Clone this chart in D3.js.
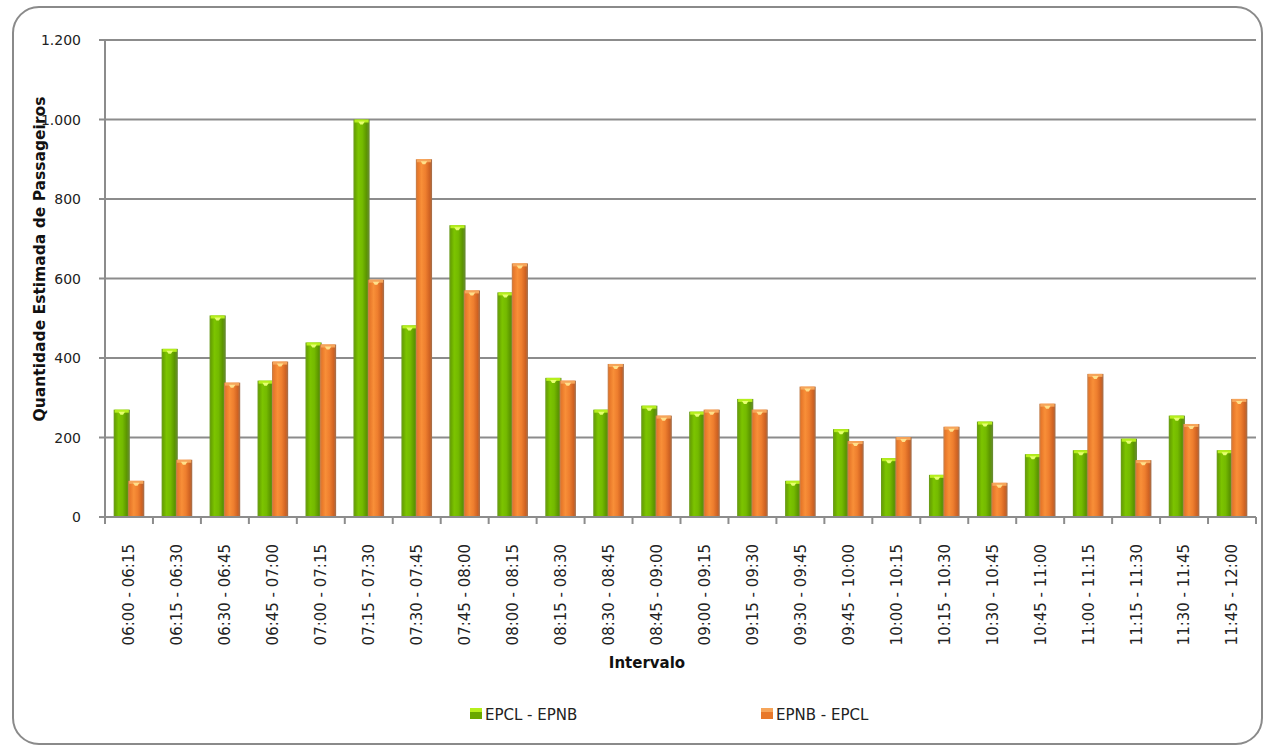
<!DOCTYPE html>
<html>
<head>
<meta charset="utf-8">
<script src="https://cdn.jsdelivr.net/npm/d3@7"></script>
<style>
  html, body { margin: 0; padding: 0; background: #fff; }
  svg { display: block; font-family: "DejaVu Sans", sans-serif; }
</style>
</head>
<body>
<svg id="chart" width="1266" height="747"></svg>
<script>
const categories = ["06:00 - 06:15","06:15 - 06:30","06:30 - 06:45","06:45 - 07:00","07:00 - 07:15","07:15 - 07:30","07:30 - 07:45","07:45 - 08:00","08:00 - 08:15","08:15 - 08:30","08:30 - 08:45","08:45 - 09:00","09:00 - 09:15","09:15 - 09:30","09:30 - 09:45","09:45 - 10:00","10:00 - 10:15","10:15 - 10:30","10:30 - 10:45","10:45 - 11:00","11:00 - 11:15","11:15 - 11:30","11:30 - 11:45","11:45 - 12:00"];
const seriesNames = ["EPCL - EPNB", "EPNB - EPCL"];
const epclEpnb = [270, 423, 507, 343, 439, 1000, 482, 734, 565, 350, 270, 280, 265, 297, 91, 221, 148, 106, 240, 158, 168, 197, 255, 168];
const epnbEpcl = [91, 144, 338, 391, 434, 597, 900, 570, 638, 343, 385, 255, 270, 270, 328, 191, 201, 227, 86, 285, 360, 143, 234, 297];
const yTicks = [0, 200, 400, 600, 800, 1000, 1200];
const yTickLabels = ["0", "200", "400", "600", "800", "1.000", "1.200"];

const svg = d3.select("#chart");
const plot = {left: 105, right: 1256, top: 40, bottom: 517};

// outer rounded border
svg.append("rect").attr("x", 13).attr("y", 7).attr("width", 1249).attr("height", 737)
  .attr("rx", 26).attr("ry", 26).attr("fill", "#fff").attr("stroke", "#8a8a8a").attr("stroke-width", 2);

// gradients
const defs = svg.append("defs");
function grad(id, stops) {
  const g = defs.append("linearGradient").attr("id", id).attr("x1", "0%").attr("x2", "100%").attr("y1", "0%").attr("y2", "0%");
  stops.forEach(s => g.append("stop").attr("offset", s[0]).attr("stop-color", s[1]));
}
grad("gGreen", [["0%", "#6a9a1e"], ["12%", "#6aa800"], ["30%", "#7cc400"], ["55%", "#74ba00"], ["80%", "#5c9600"], ["100%", "#6a8a3a"]]);
grad("gOrange", [["0%", "#c08050"], ["12%", "#e8782a"], ["35%", "#f88f38"], ["60%", "#ee7e2e"], ["85%", "#cf6222"], ["100%", "#a07050"]]);

const x = d3.scaleBand().domain(categories).range([plot.left, plot.right]).paddingInner(0).paddingOuter(0);
const y = d3.scaleLinear().domain([0, 1200]).range([plot.bottom, plot.top]);
const inner = d3.scaleBand().domain(seriesNames).range([0, x.bandwidth()]).paddingInner(-0.12).paddingOuter(0.6);

// gridlines + y tick marks
svg.append("g").selectAll("line").data(yTicks).join("line")
  .attr("x1", plot.left - 6).attr("x2", plot.right)
  .attr("y1", d => y(d)).attr("y2", d => y(d))
  .attr("stroke", "#8c8c8c").attr("stroke-width", 2);

// y axis line
svg.append("line").attr("x1", plot.left).attr("x2", plot.left).attr("y1", plot.top).attr("y2", plot.bottom + 7)
  .attr("stroke", "#8c8c8c").attr("stroke-width", 2);

// y labels
svg.append("g").selectAll("text").data(yTicks).join("text")
  .attr("x", 81).attr("y", d => y(d)).attr("dy", "0.36em")
  .attr("text-anchor", "end").attr("font-size", 14).attr("fill", "#222")
  .text((d, i) => yTickLabels[i]);

// bars
const series = [
  {name: seriesNames[0], values: epclEpnb, fill: "url(#gGreen)", cap: "#b6ef1c", capLight: "#e6ff70"},
  {name: seriesNames[1], values: epnbEpcl, fill: "url(#gOrange)", cap: "#f6a55a", capLight: "#ffe08a"}
];
const bw = inner.bandwidth();
series.forEach(s => {
  const g = svg.append("g");
  s.values.forEach((v, i) => {
    const bx = x(categories[i]) + inner(s.name);
    const top = y(v);
    g.append("rect").attr("x", bx).attr("y", top).attr("width", bw).attr("height", y(0) - top).attr("fill", s.fill);
    g.append("rect").attr("x", bx + 1).attr("y", top).attr("width", bw - 2).attr("height", 3).attr("fill", s.cap);
    g.append("path").attr("d", `M${bx + bw*0.3},${top + 2} L${bx + bw*0.7},${top + 2} L${bx + bw*0.58},${top + 5} L${bx + bw*0.42},${top + 5} Z`).attr("fill", s.capLight);
  });
});

// x axis baseline and category ticks
svg.append("line").attr("x1", plot.left - 6).attr("x2", plot.right).attr("y1", plot.bottom).attr("y2", plot.bottom)
  .attr("stroke", "#8c8c8c").attr("stroke-width", 2);
const bounds = categories.map(c => x(c)).concat([plot.right]);
svg.append("g").selectAll("line").data(bounds).join("line")
  .attr("x1", d => d).attr("x2", d => d).attr("y1", plot.bottom).attr("y2", plot.bottom + 7)
  .attr("stroke", "#8c8c8c").attr("stroke-width", 2);

// x labels (rotated)
svg.append("g").selectAll("text").data(categories).join("text")
  .attr("transform", d => `translate(${x(d) + x.bandwidth()/2},${plot.bottom + 27}) rotate(-90)`)
  .attr("text-anchor", "end").attr("dy", "0.36em").attr("font-size", 15).attr("fill", "#222")
  .text(d => d);

// axis titles
svg.append("text").attr("x", 647).attr("y", 668).attr("text-anchor", "middle")
  .attr("font-size", 15).attr("font-weight", "bold").attr("fill", "#111").text("Intervalo");
svg.append("text").attr("transform", "translate(45,259) rotate(-90)").attr("text-anchor", "middle")
  .attr("font-size", 15.5).attr("font-weight", "bold").attr("fill", "#111").text("Quantidade Estimada de Passageiros");

// legend
const legend = [
  {name: seriesNames[0], x: 470, c1: "#6aa800", c2: "#b6ef1c"},
  {name: seriesNames[1], x: 761, c1: "#e8782a", c2: "#f6a55a"}
];
legend.forEach(l => {
  svg.append("rect").attr("x", l.x).attr("y", 708).attr("width", 12).attr("height", 11).attr("fill", l.c1);
  svg.append("rect").attr("x", l.x).attr("y", 708).attr("width", 12).attr("height", 4).attr("fill", l.c2);
  svg.append("text").attr("x", l.x + 15).attr("y", 720).attr("font-size", 15).attr("fill", "#222").text(l.name);
});
</script>
</body>
</html>
